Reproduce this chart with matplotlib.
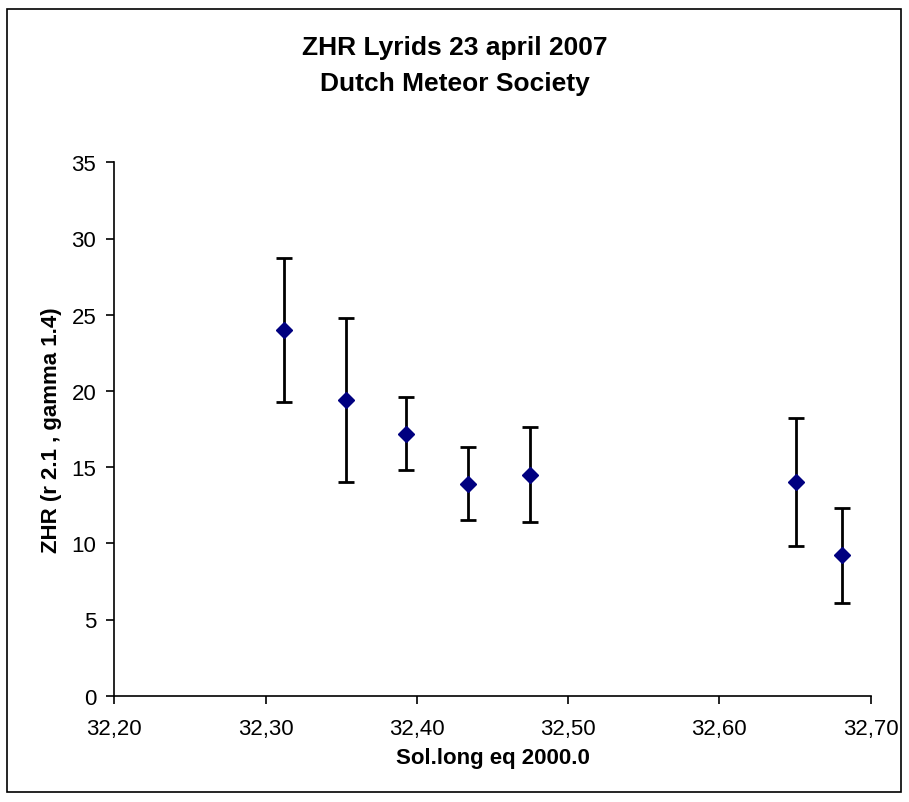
import matplotlib
matplotlib.use("Agg")
import matplotlib.pyplot as plt
from matplotlib.patches import Rectangle
from matplotlib.ticker import FuncFormatter

plt.rcParams['font.family'] = ['Liberation Sans', 'DejaVu Sans']

# solar longitude, ZHR and error bar ends
sol_long = [32.312, 32.353, 32.393, 32.434, 32.475, 32.651, 32.681]
zhr = [24.0, 19.4, 17.2, 13.9, 14.5, 14.0, 9.2]
zhr_hi = [28.7, 24.8, 19.6, 16.3, 17.6, 18.2, 12.3]
zhr_lo = [19.3, 14.0, 14.8, 11.5, 11.4, 9.8, 6.1]

err_lo = [z - l for z, l in zip(zhr, zhr_lo)]
err_hi = [h - z for z, h in zip(zhr, zhr_hi)]

fig = plt.figure(figsize=(9.09, 8.03), dpi=100)
W, H = 909, 803
ax = fig.add_axes([114.3 / W, 1 - 696.7 / H, (870.6 - 114.3) / W, (696.7 - 163.3) / H])

# outer frame of the chart area
fig.patches.append(Rectangle((7 / W, 1 - 793 / H), (901 - 7) / W, (793 - 10) / H,
                             transform=fig.transFigure, fill=False,
                             edgecolor='black', linewidth=1.2))

ax.errorbar(sol_long, zhr, yerr=[err_lo, err_hi], fmt='D', color='#000080',
            markersize=8.5, ecolor='black', elinewidth=2, capsize=6, capthick=2,
            zorder=3)

ax.set_xlim(32.20, 32.70)
ax.set_ylim(0, 35)
ax.set_xticks([32.20, 32.30, 32.40, 32.50, 32.60, 32.70])
ax.set_yticks(range(0, 36, 5))
ax.xaxis.set_major_formatter(FuncFormatter(lambda v, p: f"{v:.2f}".replace('.', ',')))

for s in ['top', 'right']:
    ax.spines[s].set_visible(False)
for s in ['left', 'bottom']:
    ax.spines[s].set_linewidth(1.2)
ax.tick_params(direction='out', length=6, width=1.2, labelsize=16)
ax.tick_params(axis='x', pad=10)
ax.tick_params(axis='y', pad=7)

ax.set_xlabel('Sol.long eq 2000.0', fontsize=16, fontweight='bold', labelpad=6)
ax.set_ylabel('ZHR (r 2.1 , gamma 1.4)', fontsize=16, fontweight='bold', labelpad=7)

fig.text(0.5, 1 - 48 / H, 'ZHR Lyrids 23 april 2007', ha='center', va='center',
         fontsize=19, fontweight='bold')
fig.text(0.5, 1 - 84 / H, 'Dutch Meteor Society', ha='center', va='center',
         fontsize=19, fontweight='bold')

fig.savefig('out.png', dpi=100)
